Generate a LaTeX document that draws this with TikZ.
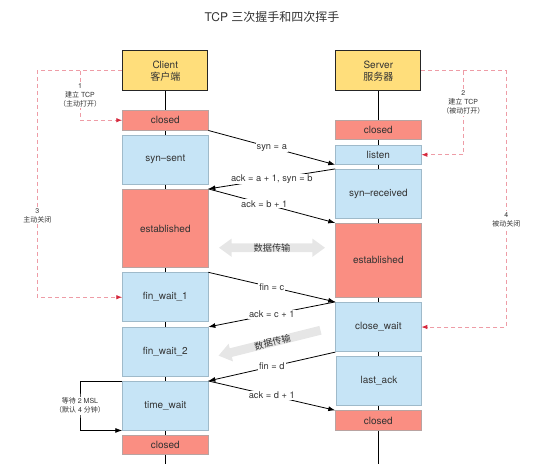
\documentclass[tikz,border=0pt]{standalone}
\usepackage{fontspec}
\setmainfont{TeX Gyre Heros}
\newfontfamily\cjk{Noto Sans CJK SC}
\usetikzlibrary{arrows.meta,shapes.arrows}
\definecolor{hdryellow}{HTML}{FFDE7B}
\definecolor{salmon}{HTML}{FA8E82}
\definecolor{salmonline}{HTML}{B9A3A1}
\definecolor{paleblue}{HTML}{C6E4F6}
\definecolor{blueline}{HTML}{9FBACA}
\definecolor{pinkline}{HTML}{EE9CA6}
\definecolor{pinktip}{HTML}{D62A3E}
\definecolor{arrowgray}{HTML}{E6E6E6}
\definecolor{textgray}{HTML}{333333}
\begin{document}
\begin{tikzpicture}[x=1pt,y=-1pt,
        header/.style={draw=black!85,line width=1pt,fill=hdryellow,minimum width=85.3pt,minimum height=39.7pt,
            inner sep=0pt,align=center,text=textgray,font=\fontsize{10}{12}\selectfont},
        redbox/.style={draw=salmonline,line width=0.8pt,fill=salmon,minimum width=85.3pt,inner sep=0pt,
            text=textgray,font=\fontsize{10}{12}\selectfont},
        bluebox/.style={draw=blueline,line width=0.8pt,fill=paleblue,minimum width=85.3pt,inner sep=0pt,
            text=textgray,font=\fontsize{10}{12}\selectfont},
        msg/.style={fill=white,inner sep=1pt,text=textgray,font=\fontsize{9.3}{11}\selectfont},
        note/.style={fill=white,inner sep=1pt,align=center,text=textgray,font=\fontsize{7}{9}\selectfont},
        msgline/.style={line width=0.8pt,-{Latex[length=7pt,width=5pt]}},
        pinkdash/.style={draw=pinkline,line width=0.8pt,dash pattern=on 4pt off 3pt,
            -{Latex[length=6pt,width=4.5pt,color=pinktip]}},
        xfer/.style={fill=arrowgray,inner sep=0pt,text=textgray,font=\fontsize{9.2}{11}\selectfont\cjk}
    ]
        \useasboundingbox (0,0) rectangle (553,475);
        \node (title) [text=textgray,font=\fontsize{12}{14}\selectfont] at (272,17) {TCP {\cjk 三次握手和四次挥手}};

        \node (client) [header] at (165.3,70.8) {Client\\{\cjk 客户端}};
        \node (server) [header] at (378.3,70.8) {Server\\{\cjk 服务器}};
        \coordinate (cbottom) at (165.3,464.3);
        \coordinate (sbottom) at (378.3,464.3);
        \draw [line width=0.8pt] (client) -- (cbottom);
        \draw [line width=0.8pt] (server) -- (sbottom);

        \node (cclosed) [redbox,minimum height=19.7pt] at (165.3,120.2) {closed};
        \node (synsent) [bluebox,minimum height=49.3pt] at (165.3,159.7) {syn--sent};
        \node (cest) [redbox,minimum height=78.4pt] at (165.3,228.5) {established};
        \node (finwaitone) [bluebox,minimum height=49pt] at (165.3,297.2) {fin\_wait\_1};
        \node (finwaittwo) [bluebox,minimum height=49pt] at (165.3,351.8) {fin\_wait\_2};
        \node (timewait) [bluebox,minimum height=48.7pt] at (165.3,405.7) {time\_wait};
        \node (cclosedend) [redbox,minimum height=19.4pt] at (165.3,445) {closed};

        \node (sclosed) [redbox,minimum height=19.3pt] at (378.3,129.7) {closed};
        \node (listen) [bluebox,minimum height=19.3pt] at (378.3,154.7) {listen};
        \node (synrcvd) [bluebox,minimum height=49pt] at (378.3,193.8) {syn--received};
        \node (sest) [redbox,minimum height=74pt] at (378.3,260.3) {established};
        \node (closewait) [bluebox,minimum height=49.4pt] at (378.3,327) {close\_wait};
        \node (lastack) [bluebox,minimum height=49.4pt] at (379,381) {last\_ack};
        \node (sclosedend) [redbox,minimum height=20pt] at (378.3,420.7) {closed};

        \draw [msgline] (cclosed.south east) to node[msg]{syn = a} (listen.south west);
        \draw [msgline] (synrcvd.north west) to node[msg]{ack = a + 1, syn = b} (cest.north east);
        \draw [msgline] (cest.north east) to node[msg,pos=0.44]{ack = b + 1} (sest.north west);
        \draw [msgline] (finwaitone.north east) to node[msg]{fin = c} (closewait.north west);
        \draw [msgline] (closewait.north west) to node[msg]{ack = c + 1} (finwaittwo.north east);
        \draw [msgline] (closewait.south west) to node[msg]{fin = d} (timewait.north east);
        \draw [msgline] (timewait.north east) to node[msg]{ack = d + 1} (sclosedend.north west);

        \node (xferboth) [xfer,double arrow,minimum height=106pt,double arrow head extend=4.7pt,
            double arrow tip angle=72] at (272,247.7) {数据传输};
        \node (xferback) [xfer,single arrow,shape border rotate=180,rotate=14,minimum height=105pt,
            single arrow head extend=4.7pt,single arrow tip angle=72] at (272.5,342.2) {数据传输};

        \coordinate (cout) at (37.3,70.8);
        \coordinate (cin) at (80,70.8);
        \coordinate (sout) at (506.3,70.8);
        \coordinate (sin) at (463.3,70.8);
        \draw [pinkdash] (client.west) -- (cout) |- node[note,pos=0.32]{3\\{\cjk 主动关闭}} (finwaitone.west);
        \draw [pinkdash] (cin) |- node[note,pos=0.25]{1\\{\cjk 建立} TCP\\{\cjk （主动打开）}} (cclosed.west);
        \draw [pinkdash] (server.east) -- (sout) |- node[note,pos=0.29]{4\\{\cjk 被动关闭}} (closewait.east);
        \draw [pinkdash] (sin) |- node[note,pos=0.19]{2\\{\cjk 建立} TCP\\{\cjk （被动打开）}} (listen.east);

        \coordinate (twbend) at (80,405.7);
        \draw [msgline] (timewait.north west) -| (twbend) node[note]{{\cjk 等待} 2 MSL\\{\cjk （默认} 4 {\cjk 分钟）}} |- (timewait.south west);
    \end{tikzpicture}
\end{document}
